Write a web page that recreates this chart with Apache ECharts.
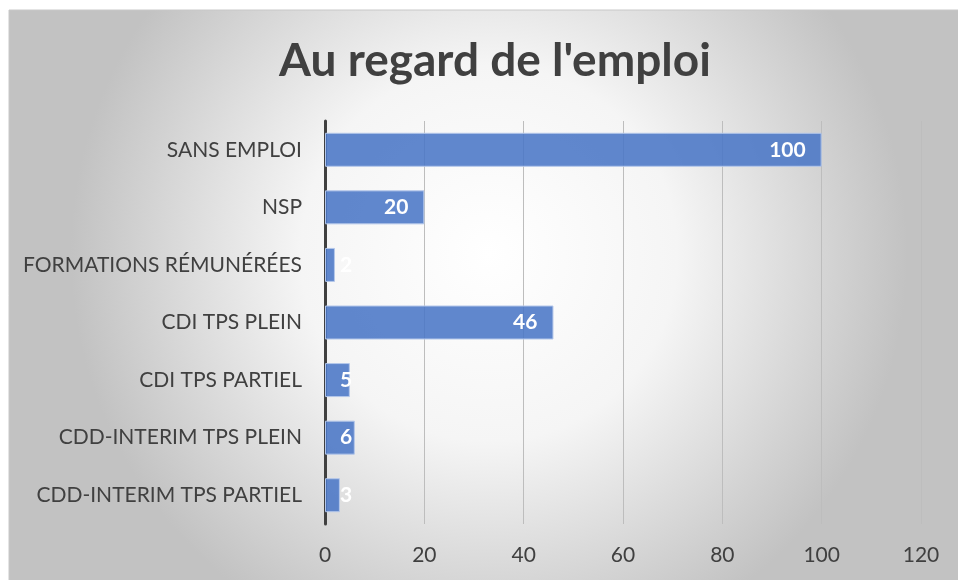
<!DOCTYPE html>
<html>
<head>
<meta charset="utf-8">
<script src="https://cdn.jsdelivr.net/npm/echarts@6/dist/echarts.min.js"></script>
<style>
html, body { margin: 0; padding: 0; background: #fff; }
#chart { width: 958px; height: 580px; }
</style>
</head>
<body>
<div id="chart"></div>
<script>
// catégories de haut en bas
var categories = ['SANS EMPLOI', 'NSP', 'FORMATIONS RÉMUNÉRÉES', 'CDI TPS PLEIN', 'CDI TPS PARTIEL', 'CDD-INTERIM TPS PLEIN', 'CDD-INTERIM TPS PARTIEL'];
var values = [100, 20, 2, 46, 5, 6, 3];
var xTicks = [0, 20, 40, 60, 80, 100, 120];

var font = 'Lato';
var chart = echarts.init(document.getElementById('chart'));

// barres courtes : étiquette collée au début
var barData = values.map(function (v) {
    var item = { value: v };
    if (v < 10) {
        item.label = { position: 'insideLeft', distance: 15 };
    }
    return item;
});

var option = {
    animation: false,
    graphic: [{
        type: 'rect',
        z: -10,
        shape: { x: 9, y: 10, width: 960, height: 580 },
        style: {
            fill: {
                type: 'radial', x: 0.5, y: 0.42, r: 0.72,
                colorStops: [
                    { offset: 0, color: '#ffffff' },
                    { offset: 0.45, color: '#f5f5f5' },
                    { offset: 1, color: '#c2c2c2' }
                ]
            },
            stroke: '#c8c8c8',
            lineWidth: 1
        }
    }],
    title: {
        text: "Au regard de l'emploi",
        left: 490,
        top: 33,
        textAlign: 'center',
        textStyle: { fontFamily: font, fontSize: 46, fontWeight: 'bold', color: '#404040' }
    },
    grid: { left: 325, right: 37, top: 121, bottom: 56, containLabel: false },
    xAxis: {
        type: 'value',
        min: 0,
        max: 120,
        interval: 20,
        axisLine: { show: false },
        axisTick: { show: false },
        axisLabel: {
            margin: 21,
            fontFamily: font, fontSize: 21, color: '#404040',
            formatter: function (v) { return xTicks.indexOf(v) >= 0 ? v : ''; }
        },
        splitLine: { lineStyle: { color: '#bdbdbd', width: 1 } }
    },
    yAxis: {
        type: 'category',
        data: categories,
        inverse: true,
        axisTick: { show: false },
        axisLine: { lineStyle: { color: '#404040', width: 3 } },
        axisLabel: { margin: 23, fontFamily: font, fontSize: 21, color: '#404040' }
    },
    series: [{
        type: 'bar',
        data: barData,
        barWidth: 34,
        itemStyle: { color: 'rgba(74,118,198,0.88)', borderColor: '#b4c7ea', borderWidth: 1 },
        label: {
            show: true,
            position: 'insideRight',
            distance: 16,
            color: '#ffffff',
            fontFamily: font,
            fontSize: 21,
            fontWeight: 'bold'
        }
    }]
};

chart.setOption(option);
</script>
</body>
</html>
